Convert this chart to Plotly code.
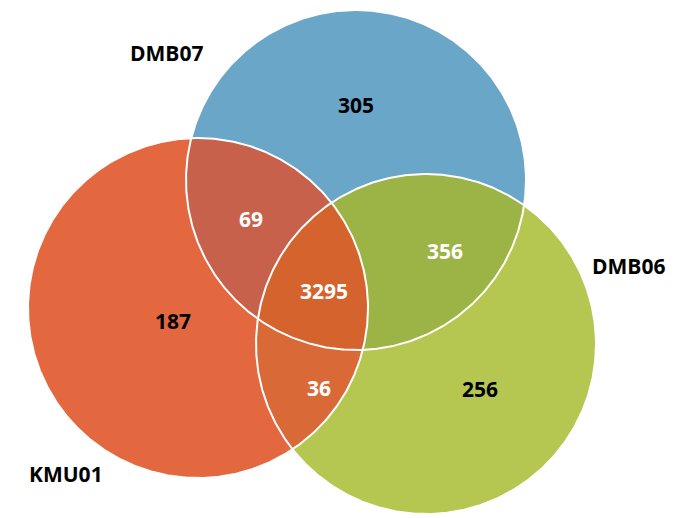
import numpy as np
import plotly.graph_objects as go

W, H = 685, 518
set_names = ["DMB07", "KMU01", "DMB06"]
region_labels = ["305", "187", "256", "69", "356", "36", "3295"]
label_colors = ["black", "black", "black", "white", "white", "white", "white"]

# geometry (pixel coords, y down)
circles = [(348, 172, 170), (190, 300, 170), (418, 336, 170)]
fills = ["#6aa6c8", "#e4683f", "#b6c751"]
pair_fill = {(0, 1): "#c8614b", (0, 2): "#9cb445", (1, 2): "#d96a38"}
triple_fill = "#d5632d"
label_pos = [(348, 97), (165, 313), (472, 381), (243, 211), (437, 243), (311, 380), (316, 283)]
name_pos = [(158, 45), (58, 466), (620, 258)]

def Y(y):
    return H - y

def circ_pts(i, n=720):
    cx, cy, r = circles[i]
    t = np.linspace(0, 2 * np.pi, n, endpoint=False)
    return cx + r * np.cos(t), cy + r * np.sin(t)

def inside(x, y, j):
    cx, cy, r = circles[j]
    return (x - cx) ** 2 + (y - cy) ** 2 <= r * r + 1e-6

def region(ids):
    xs, ys = [], []
    for i in ids:
        x, y = circ_pts(i)
        m = np.ones_like(x, bool)
        for j in ids:
            if j != i:
                m &= inside(x, y, j)
        xs.append(x[m]); ys.append(y[m])
    x = np.concatenate(xs); y = np.concatenate(ys)
    a = np.arctan2(y - y.mean(), x - x.mean())
    o = np.argsort(a)
    return x[o], y[o]

fig = go.Figure()
def add_poly(x, y, col):
    fig.add_trace(go.Scatter(x=np.append(x, x[0]), y=Y(np.append(y, y[0])), mode="lines",
                             fill="toself", fillcolor=col, line=dict(width=0, color=col),
                             hoverinfo="skip", showlegend=False))

for i in range(3):
    x, y = circ_pts(i)
    add_poly(x, y, fills[i])
for (a, b), c in pair_fill.items():
    x, y = region([a, b])
    add_poly(x, y, c)
x, y = region([0, 1, 2])
add_poly(x, y, triple_fill)
for i in range(3):
    x, y = circ_pts(i)
    fig.add_trace(go.Scatter(x=np.append(x, x[0]), y=Y(np.append(y, y[0])), mode="lines",
                             line=dict(width=2, color="white"), hoverinfo="skip", showlegend=False))

for t, (px, py), c in zip(region_labels, label_pos, label_colors):
    fig.add_annotation(x=px, y=Y(py), text=f"<b>{t}</b>", showarrow=False,
                       font=dict(family="Open Sans", size=21, color=c))
for t, (px, py) in zip(set_names, name_pos):
    fig.add_annotation(x=px, y=Y(py), text=f"<b>{t}</b>", showarrow=False,
                       font=dict(family="Open Sans", size=21, color="black"))

fig.update_layout(width=W, height=H, margin=dict(l=0, r=0, t=0, b=0),
                  plot_bgcolor="white", paper_bgcolor="white",
                  xaxis=dict(range=[0, W], visible=False, fixedrange=True),
                  yaxis=dict(range=[0, H], visible=False, fixedrange=True))
fig.write_html("out.html")
